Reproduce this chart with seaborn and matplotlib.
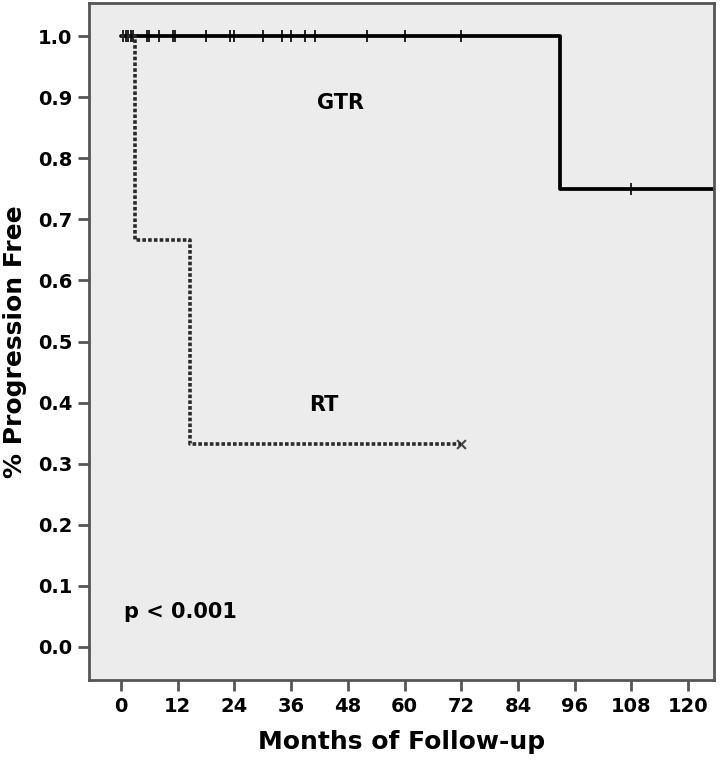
import numpy as np
import pandas as pd
import seaborn as sns
import matplotlib
matplotlib.use("Agg")
import matplotlib.pyplot as plt

# Kaplan-Meier step data
gtr_time = [0, 93, 125.5]
gtr_surv = [1.0, 0.75, 0.75]
gtr_cens_time = [0.5, 1, 1.5, 2, 2.5, 5.5, 6, 8, 11, 11.5, 18, 23, 24, 30,
                 34, 36, 39, 41, 52, 60, 72, 108]
gtr_cens_surv = [1.0] * 21 + [0.75]

rt_time = [0, 3, 14.5, 72]
rt_surv = [1.0, 0.667, 0.333, 0.333]
rt_cens_time = [72]
rt_cens_surv = [0.333]

x_ticks = [0, 12, 24, 36, 48, 60, 72, 84, 96, 108, 120]
y_ticks = [0.0, 0.1, 0.2, 0.3, 0.4, 0.5, 0.6, 0.7, 0.8, 0.9, 1.0]

sns.set_style("ticks")
plt.rcParams['font.family'] = ['DejaVu Sans']
plt.rcParams['text.color'] = 'black'
plt.rcParams['axes.labelcolor'] = 'black'
plt.rcParams['xtick.labelcolor'] = 'black'
plt.rcParams['ytick.labelcolor'] = 'black'

fig = plt.figure(figsize=(7.2, 7.68), dpi=100)
ax = fig.add_axes([0.1236, 0.1146, 0.868, 0.8814])
ax.set_facecolor("#ececec")

gtr = pd.DataFrame({"t": gtr_time, "s": gtr_surv})
rt = pd.DataFrame({"t": rt_time, "s": rt_surv})

sns.lineplot(data=gtr, x="t", y="s", ax=ax, estimator=None, drawstyle="steps-post",
             color="black", linewidth=2.7)
sns.lineplot(data=rt, x="t", y="s", ax=ax, estimator=None, drawstyle="steps-post",
             color="#2a2a2a", linewidth=2.6, linestyle=(0, (1, 0.6)))

sns.scatterplot(x=gtr_cens_time, y=gtr_cens_surv, ax=ax, marker="|", s=80,
                color="black", linewidth=1.2)
sns.scatterplot(x=rt_cens_time, y=rt_cens_surv, ax=ax, marker="x", s=40,
                color="#444444", linewidth=1.5)

ax.text(46.5, 0.89, "GTR", fontsize=15, fontweight="bold", ha="center", va="center")
ax.text(43, 0.396, "RT", fontsize=15, fontweight="bold", ha="center", va="center")
ax.text(12.5, 0.057, "p < 0.001", fontsize=15, fontweight="bold", ha="center", va="center")

ax.set_xlim(-6.8, 125.5)
ax.set_ylim(-0.054, 1.054)
ax.set_xticks(x_ticks)
ax.set_yticks(y_ticks)
ax.set_xticklabels([str(v) for v in x_ticks])
ax.set_yticklabels([f"{v:.1f}" for v in y_ticks])
ax.tick_params(direction="out", length=8, width=2, color="#555555",
               labelsize=14, labelcolor="black", pad=4)
for lab in ax.get_xticklabels() + ax.get_yticklabels():
    lab.set_fontweight("bold")

for sp in ax.spines.values():
    sp.set_visible(True)
    sp.set_color("#555555")
    sp.set_linewidth(2)

ax.set_xlabel("Months of Follow-up", fontsize=18, fontweight="bold", labelpad=10)
ax.set_ylabel("% Progression Free", fontsize=18, fontweight="bold", labelpad=8)

fig.savefig("out.png", dpi=100)
